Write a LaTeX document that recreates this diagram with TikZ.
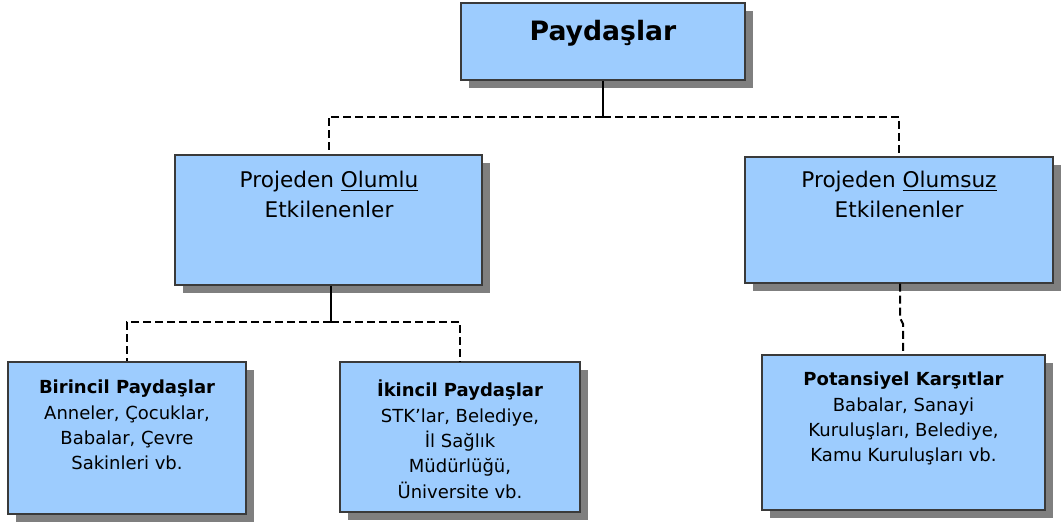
\documentclass[tikz,border=0pt]{standalone}
\usepackage{fontspec}
\setmainfont{DejaVu Sans}
\usetikzlibrary{shadows}
\definecolor{boxblue}{HTML}{9DCCFE}
\definecolor{boxline}{HTML}{3A3A3A}
\definecolor{shadowgray}{HTML}{7F7F7F}
\begin{document}
\begin{tikzpicture}[x=0.75pt,y=-0.75pt,
  box/.style={draw=boxline,line width=0.8pt,fill=boxblue,inner sep=0pt,
    drop shadow={shadow xshift=6pt,shadow yshift=-6pt,fill=shadowgray,opacity=1}},
  midtext/.style={align=center,font=\fontsize{16.2}{22}\selectfont,anchor=north,inner sep=0pt},
  lowtext/.style={align=center,font=\fontsize{13.5}{19}\selectfont,anchor=north,inner sep=0pt},
  link/.style={line width=1.5pt,black},
  dlink/.style={link,dash pattern=on 6pt off 3pt}]
\useasboundingbox (0,0) rectangle (1063,527);

% boxes
\node[box,minimum width=284*0.75pt,minimum height=77*0.75pt] (top) at (603,41.5) {};
\node[box,minimum width=307*0.75pt,minimum height=130*0.75pt] (lm) at (328.5,220) {};
\node[box,minimum width=308*0.75pt,minimum height=126*0.75pt] (rm) at (899,220) {};
\node[box,minimum width=238*0.75pt,minimum height=152*0.75pt] (b1) at (127,438) {};
\node[box,minimum width=240*0.75pt,minimum height=150*0.75pt] (b2) at (460,437) {};
\node[box,minimum width=283*0.75pt,minimum height=155*0.75pt] (b3) at (903.5,432.5) {};

% texts
\node[anchor=base,inner sep=0pt,font=\fontsize{20}{24}\selectfont\bfseries] (ttop) at (603,41) {Paydaşlar};
\node[midtext] (tlm) at (329,171) {Projeden \underline{Olumlu}\\Etkilenenler};
\node[midtext] (trm) at (899,171) {Projeden \underline{Olumsuz}\\Etkilenenler};
\node[lowtext] (tb1) at (127,380) {\textbf{Birincil Paydaşlar}\\Anneler, Çocuklar,\\Babalar, Çevre\\Sakinleri vb.};
\node[lowtext] (tb2) at (460,380) {\textbf{İkincil Paydaşlar}\\STK'lar, Belediye,\\İl Sağlık\\Müdürlüğü,\\Üniversite vb.};
\node[lowtext] (tb3) at (903.5,372) {\textbf{Potansiyel Karşıtlar}\\Babalar, Sanayi\\Kuruluşları, Belediye,\\Kamu Kuruluşları vb.};

% junction points
\coordinate (j1) at (603,117);
\coordinate (j2) at (331,322);
\coordinate (k1) at (900,318);
\coordinate (k2) at (903,324);

% connectors
\draw[link] (top.south) -- (j1);
\draw[dlink] (j1) -| (lm.north);
\draw[dlink] (j1) -| (rm.north);
\draw[link] (lm.south -| j2) -- (j2);
\draw[dlink] (j2) -| (b1.north);
\draw[dlink] (j2) -| (b2.north);
\draw[dlink] (rm.south -| k1) -- (k1) -- (k2) -- (b3.north -| k2);
\end{tikzpicture}
\end{document}
